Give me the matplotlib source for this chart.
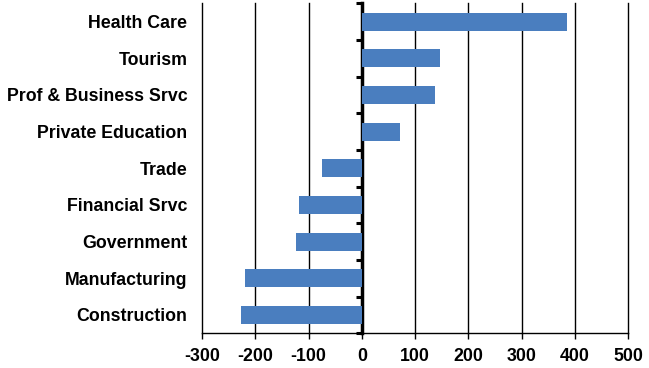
import matplotlib
matplotlib.use("Agg")
import matplotlib.pyplot as plt
import numpy as np

categories = ["Health Care", "Tourism", "Prof & Business Srvc", "Private Education",
              "Trade", "Financial Srvc", "Government", "Manufacturing", "Construction"]
values = [385, 147, 138, 71, -75, -118, -124, -220, -227]
xticks = [-300, -200, -100, 0, 100, 200, 300, 400, 500]

plt.rcParams['font.family'] = ['Liberation Sans', 'DejaVu Sans']
plt.rcParams['font.weight'] = 'bold'

fig = plt.figure(figsize=(6.49, 3.68), dpi=100)
ax = fig.add_axes([202/649, 1-333.3/368, (628.3-202)/649, (333.3-3.3)/368])

y = np.arange(len(categories))
ax.barh(y, values, height=0.49, color='#4a7ebf', zorder=3)

ax.set_xlim(-300, 500)
ax.set_ylim(len(categories)-0.5, -0.5)
ax.set_xticks(xticks)
ax.set_xticklabels([str(t) for t in xticks], fontsize=12.8, fontweight='bold')
ax.set_yticks(y)
ax.set_yticklabels(categories, fontsize=12.8, fontweight='bold')
ax.tick_params(axis='y', length=0, pad=10.5)
ax.tick_params(axis='x', length=4, width=1, direction='out', pad=6.5, color='black')

for t in xticks:
    if t != 0:
        ax.axvline(t, color='black', lw=1.0, zorder=1, clip_on=False)

for s in ['top', 'right', 'left']:
    ax.spines[s].set_visible(False)
ax.spines['bottom'].set_linewidth(1.0)

sec = ax.secondary_yaxis(300/800)
sec.set_yticks(np.arange(-0.5, len(categories), 1.0))
sec.set_yticklabels([])
sec.tick_params(axis='y', length=4, width=2.2, direction='out', color='black')
sec.spines['left'].set_linewidth(2.5)
sec.spines['left'].set_zorder(5)

fig.savefig("out.png", dpi=100)
